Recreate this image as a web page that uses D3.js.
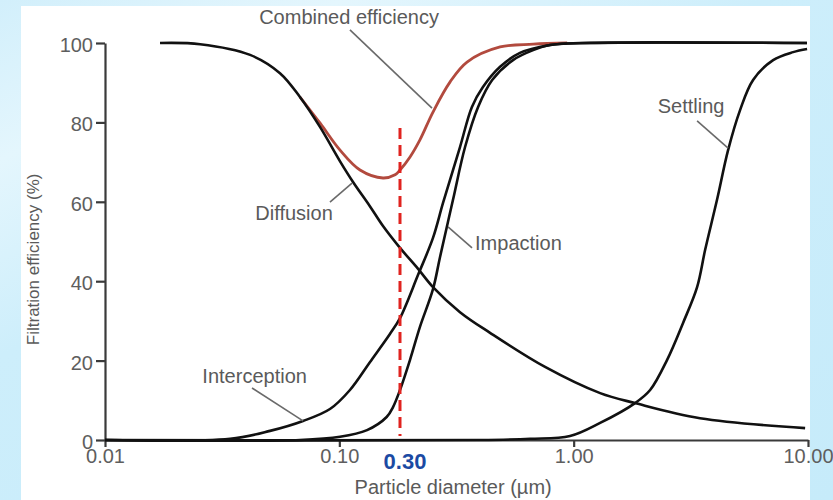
<!DOCTYPE html>
<html>
<head>
<meta charset="utf-8">
<script src="https://cdn.jsdelivr.net/npm/d3@7"></script>
<style>
  html, body { margin: 0; padding: 0; }
  body {
    width: 833px; height: 500px; overflow: hidden;
    background: linear-gradient(155deg, #d2effb 0%, #e4f6fd 18%, #cdeefb 40%, #c6ebfa 100%);
  }
  svg { display: block; }
  .axis path, .axis line { stroke: #3a3a3a; stroke-width: 2.2; }
  .axis text { font-family: 'Liberation Sans', Arial, sans-serif; font-size: 20px; fill: #5e5e5e; }
  .label { font-family: 'Liberation Sans', Arial, sans-serif; font-size: 20px; fill: #5a5a5a; }
  .leader { stroke: #6a6a6a; stroke-width: 1.6; fill: none; }
  .curve { fill: none; stroke: #111; stroke-width: 2.6; }
</style>
</head>
<body>
<script>
// particle diameter (um) / efficiency (%)
const diffusionD = [0.01717, 0.02545, 0.0416, 0.0558, 0.0679, 0.0828, 0.1007, 0.1144, 0.135, 0.1536, 0.1815, 0.2168, 0.251, 0.3273, 0.4396, 0.755, 1.297, 1.828, 3.46, 9.72]
const diffusionE = [100, 99.7, 97.0, 92.4, 86.4, 78.8, 70.2, 65.0, 58.9, 53.9, 48.4, 43.1, 38.5, 32.2, 27.0, 18.4, 11.8, 9.3, 5.5, 3.0]

const interceptionD = [0.01, 0.0342, 0.0506, 0.070, 0.0912, 0.111, 0.135, 0.1644, 0.1815, 0.2168, 0.251, 0.277, 0.3273, 0.368, 0.410, 0.4853, 0.590, 0.793, 1.065, 9.9]
const interceptionE = [0, 0.3, 2.3, 4.8, 7.8, 12.6, 19.6, 26.7, 30.7, 41.6, 50.9, 59.7, 73.8, 83.9, 88.9, 94.0, 97.5, 99.5, 100, 100]

const impactionD = [0.01, 0.0679, 0.1007, 0.1313, 0.1592, 0.1695, 0.1815, 0.2003, 0.2208, 0.251, 0.269, 0.3055, 0.344, 0.391, 0.449, 0.551, 0.6716, 0.793, 1.175, 9.9]
const impactionE = [0, 0, 0.8, 2.5, 5.8, 8.3, 12.6, 20.2, 28.5, 38.0, 46.1, 60.5, 73.8, 83.9, 90.7, 95.7, 98.2, 99.5, 100, 100]

const settlingD = [0.01, 0.3985, 0.652, 0.965, 1.297, 1.828, 2.12, 2.505, 2.93, 3.363, 3.64, 4.09, 4.56, 5.13, 5.83, 7.10, 8.64, 9.91]
const settlingE = [0, 0, 0.3, 1.0, 4.3, 9.3, 12.6, 20.2, 29.5, 38.5, 47.9, 60.5, 73.0, 83.1, 90.7, 95.7, 97.7, 98.5]

const combinedD = [0.0679, 0.0828, 0.1007, 0.1225, 0.1536, 0.1729, 0.1815, 0.2003, 0.2208, 0.251, 0.297, 0.3507, 0.4853, 0.6716, 0.938]
const combinedE = [86.4, 79.8, 73.0, 68.0, 66.0, 66.8, 68.0, 71.3, 75.6, 82.6, 90.2, 95.2, 99.0, 99.7, 100]

const xTicks = [0.01, 0.1, 1, 10]
const xTickLabels = ['0.01', '0.10', '1.00', '10.00']
const yTicks = [0, 20, 40, 60, 80, 100]

const markerDiameter = 0.1815
const markerTop = 78.6
const markerLabel = '0.30'

// name, point on curve [d, %], leader end [d, %], text [d, %], anchor
const annotations = [
  ['Combined efficiency', [0.2486, 83.6], [0.111, 103.3], [0.110, 104.8], 'middle'],
  ['Diffusion', [0.1133, 64.7], [0.0912, 59.9], [0.0641, 55.4], 'middle'],
  ['Impaction', [0.2910, 53.7], [0.3684, 48.4], [0.3795, 47.9], 'start'],
  ['Interception', [0.070, 4.8], [0.0424, 13.1], [0.0435, 14.4], 'middle'],
  ['Settling', [4.56, 73.5], [3.363, 80.4], [3.17, 82.4], 'middle']
]

const outerWidth = 833
const outerHeight = 500
const margin = { left: 105, top: 43, right: 25, bottom: 60 }
const innerWidth = outerWidth - margin.left - margin.right
const innerHeight = outerHeight - margin.top - margin.bottom

const svg = d3.select('body').append('svg')
  .attr('width', outerWidth)
  .attr('height', outerHeight)

// white panel
svg.append('rect')
  .attr('x', 21).attr('y', 6)
  .attr('width', 789).attr('height', 494)
  .attr('fill', '#fff')

const g = svg.append('g')
  .attr('transform', 'translate(' + margin.left + ',' + margin.top + ')')

const x = d3.scaleLog().domain([0.01, 10]).range([0, innerWidth])
const y = d3.scaleLinear().domain([0, 100]).range([innerHeight, 0])

g.append('g')
  .attr('class', 'axis axis--x')
  .attr('transform', 'translate(0,' + innerHeight + ')')
  .call(d3.axisBottom(x).tickValues(xTicks).tickFormat((d, i) => xTickLabels[i])
    .tickSize(7).tickSizeOuter(0).tickPadding(2))

g.append('g')
  .attr('class', 'axis axis--y')
  .call(d3.axisLeft(y).tickValues(yTicks).tickSize(9).tickSizeOuter(0).tickPadding(3))
  .selectAll('text').attr('dy', '0.42em')

const line = d3.line()
  .x(d => x(d[0]))
  .y(d => y(d[1]))
  .curve(d3.curveCatmullRom.alpha(0.5))

const pairs = (ds, es) => ds.map((d, i) => [d, es[i]])

g.append('path')
  .datum(pairs(combinedD, combinedE))
  .attr('fill', 'none')
  .attr('stroke', '#b24a3e')
  .attr('stroke-width', 2.8)
  .attr('d', line)

const series = [
  pairs(settlingD, settlingE),
  pairs(impactionD, impactionE),
  pairs(interceptionD, interceptionE),
  pairs(diffusionD, diffusionE)
]

g.selectAll('.curve')
  .data(series)
  .enter()
  .append('path')
  .attr('class', 'curve')
  .attr('d', line)

// red marker line
g.append('line')
  .attr('x1', x(markerDiameter)).attr('x2', x(markerDiameter))
  .attr('y1', y(markerTop)).attr('y2', y(0) - 4)
  .attr('stroke', '#e0231f')
  .attr('stroke-width', 3)
  .attr('stroke-dasharray', '11,6')

g.append('text')
  .attr('x', x(markerDiameter) + 5)
  .attr('y', innerHeight + 29)
  .attr('text-anchor', 'middle')
  .attr('font-family', "'Liberation Sans', Arial, sans-serif")
  .attr('font-size', 22)
  .attr('font-weight', 'bold')
  .attr('fill', '#1b4aa3')
  .text(markerLabel)

// annotations
const ann = g.selectAll('.ann')
  .data(annotations)
  .enter()
  .append('g')
  .attr('class', 'ann')

ann.append('line')
  .attr('class', 'leader')
  .attr('x1', d => x(d[1][0])).attr('y1', d => y(d[1][1]))
  .attr('x2', d => x(d[2][0])).attr('y2', d => y(d[2][1]))

ann.append('text')
  .attr('class', 'label')
  .attr('x', d => x(d[3][0]))
  .attr('y', d => y(d[3][1]))
  .attr('text-anchor', d => d[4])
  .text(d => d[0])

// axis titles
g.append('text')
  .attr('class', 'label')
  .attr('x', x(0.306))
  .attr('y', innerHeight + 54)
  .attr('text-anchor', 'middle')
  .text('Particle diameter (µm)')

g.append('text')
  .attr('class', 'label')
  .style('font-size', '17px')
  .attr('transform', 'translate(' + (-66) + ',' + y(45.5) + ') rotate(-90)')
  .attr('text-anchor', 'middle')
  .text('Filtration efficiency (%)')
</script>
</body>
</html>
